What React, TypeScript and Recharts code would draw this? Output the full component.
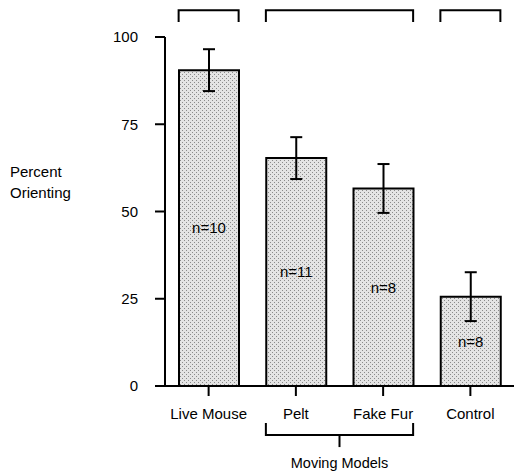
import React from "react";
import { BarChart, Bar, XAxis, YAxis, ErrorBar, LabelList, ReferenceArea } from "recharts";

// values
const categories = ["Live Mouse", "Pelt", "Fake Fur", "Control"];
const percentOrienting = [90.5, 65.3, 56.6, 25.6];
const errorMargins = [6, 6, 7, 7];
const sampleSizes = [10, 11, 8, 8];
const yTicks = [0, 25, 50, 75, 100];
const topGroups: [string, string][] = [
  ["Live Mouse", "Live Mouse"],
  ["Pelt", "Fake Fur"],
  ["Control", "Control"],
];
const movingModels: [string, string] = ["Pelt", "Fake Fur"];
const groupTitle = "Moving Models";

const data = categories.map((name, i) => ({
  name,
  value: percentOrienting[i],
  err: errorMargins[i],
  n: sampleSizes[i],
}));

const FONT = "'Liberation Sans', Arial, Helvetica, sans-serif";
const BAR_SIZE = 60;
// bracket bands, in y-axis units (outside the 0..100 domain)
const TOP_BRACKET: [number, number] = [104.3, 107.7];
const BOTTOM_BRACKET: [number, number] = [-17.5, -10.6];

const TopBracket = (props: any) => {
  const { x, y, width, height, count } = props;
  const inset = (width / count - BAR_SIZE) / 2;
  const x1 = x + inset;
  const x2 = x + width - inset;
  return (
    <path
      d={`M${x1},${y + height} V${y} H${x2} V${y + height}`}
      fill="none"
      stroke="#000"
      strokeWidth={2}
    />
  );
};

const BottomBracket = (props: any) => {
  const { x, y, width, height, count } = props;
  const inset = (width / count - BAR_SIZE) / 2;
  const x1 = x + inset;
  const x2 = x + width - inset;
  const mid = y + height / 2;
  const cx = (x1 + x2) / 2;
  return (
    <g>
      <path d={`M${x1},${y} V${mid} H${x2} V${y}`} fill="none" stroke="#000" strokeWidth={2} />
      <line x1={cx} y1={mid} x2={cx} y2={y + height} stroke="#000" strokeWidth={2} />
      <text x={cx} y={y + height + 21} textAnchor="middle" fontSize={14.5} fontFamily={FONT} fill="#000">
        {groupTitle}
      </text>
    </g>
  );
};

const YLabel = (props: any) => {
  const vb = props.viewBox || { x: 0, y: 37, height: 349 };
  const cy = vb.y + vb.height / 2;
  return (
    <text fontSize={15} fontFamily={FONT} fill="#000">
      <tspan x={10} y={cy - 35}>Percent</tspan>
      <tspan x={10} y={cy - 14}>Orienting</tspan>
    </text>
  );
};

export default function App() {
  const idx = (c: string) => categories.indexOf(c);
  return (
    <div>
      <style>{`body{margin:0;background:#fff}`}</style>
      <BarChart
        width={514}
        height={472}
        data={data}
        margin={{ top: 37, right: 0, bottom: 56, left: 0 }}
        style={{ fontFamily: FONT }}
      >
        <defs>
          <pattern id="stipple" width="4" height="4" patternUnits="userSpaceOnUse">
            <rect width="4" height="4" fill="#e4e4e4" />
            <rect x="0" y="0" width="1" height="1" fill="#8a8a8a" />
            <rect x="2" y="2" width="1" height="1" fill="#8a8a8a" />
          </pattern>
        </defs>
        <XAxis
          dataKey="name"
          interval={0}
          height={30}
          tickSize={10}
          tickMargin={12}
          axisLine={{ stroke: "#000", strokeWidth: 2 }}
          tickLine={{ stroke: "#000", strokeWidth: 2 }}
          tick={{ fill: "#000", fontSize: 15, fontFamily: FONT }}
        />
        <YAxis
          type="number"
          domain={[0, 100]}
          ticks={yTicks}
          width={165}
          tickSize={10}
          tickMargin={17}
          axisLine={{ stroke: "#000", strokeWidth: 2 }}
          tickLine={{ stroke: "#000", strokeWidth: 2 }}
          tick={{ fill: "#000", fontSize: 15, fontFamily: FONT }}
          label={{ content: <YLabel /> }}
        />
        <Bar
          dataKey="value"
          barSize={BAR_SIZE}
          fill="url(#stipple)"
          stroke="#000"
          strokeWidth={2}
          isAnimationActive={false}
        >
          <ErrorBar dataKey="err" width={6} stroke="#000" strokeWidth={2} isAnimationActive={false} />
          <LabelList
            dataKey="n"
            position="center"
            formatter={(v: any) => `n=${v}`}
            fill="#000"
            fontSize={15}
            fontFamily={FONT}
          />
        </Bar>
        {topGroups.map(([a, b]) => (
          <ReferenceArea
            key={a}
            x1={a}
            x2={b}
            y1={TOP_BRACKET[0]}
            y2={TOP_BRACKET[1]}
            ifOverflow="visible"
            shape={(p: any) => <TopBracket {...p} count={idx(b) - idx(a) + 1} />}
          />
        ))}
        <ReferenceArea
          x1={movingModels[0]}
          x2={movingModels[1]}
          y1={BOTTOM_BRACKET[0]}
          y2={BOTTOM_BRACKET[1]}
          ifOverflow="visible"
          shape={(p: any) => (
            <BottomBracket {...p} count={idx(movingModels[1]) - idx(movingModels[0]) + 1} />
          )}
        />
      </BarChart>
    </div>
  );
}
